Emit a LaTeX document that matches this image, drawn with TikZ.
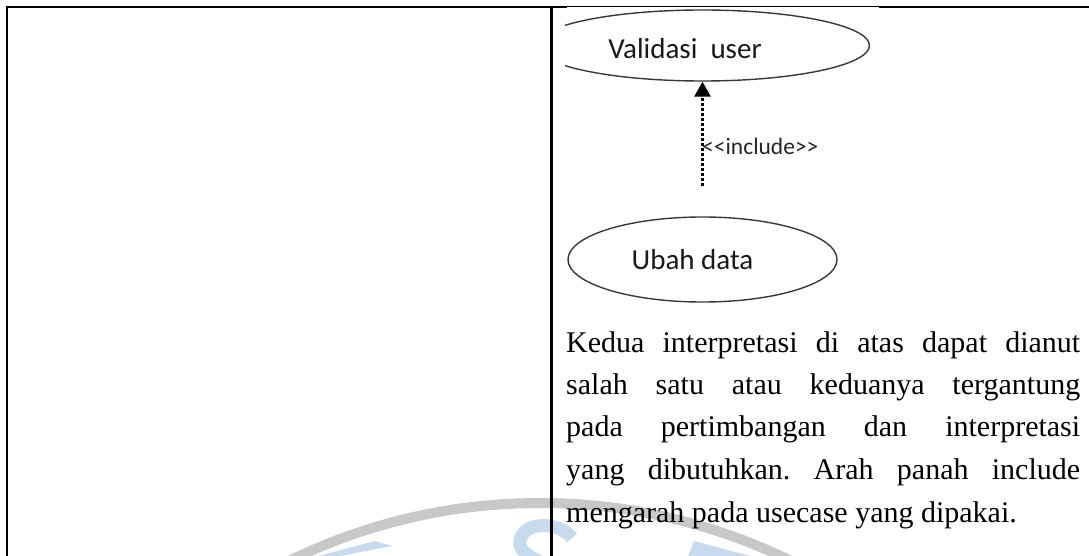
\documentclass[tikz,border=0pt]{standalone}
\usepackage{fontspec}
\setmainfont{Liberation Serif}
\newfontfamily\calibri{Carlito}
\usetikzlibrary{shapes.geometric,arrows.meta}
\definecolor{wmblue}{RGB}{200,218,238}
\definecolor{wmgray}{RGB}{200,200,200}
\begin{document}
\begin{tikzpicture}[x=1pt,y=-1pt,
  rule/.style={line width=2.3pt,line cap=rect},
  thinrule/.style={line width=1pt},
  usecase/.style={draw=black!78,line width=1.4pt,ellipse,inner sep=0pt},
  uctext/.style={font=\calibri\fontsize{29}{34}\selectfont,text=black!90,inner sep=0pt,anchor=base},
  bodyline/.style={font=\fontsize{30}{36}\selectfont,inner sep=0pt,anchor=base west},
  inclabel/.style={font=\calibri\fontsize{23.5}{28}\selectfont,text=black!85,inner sep=0pt,anchor=base west},
  incarrow/.style={line width=2.8pt,dash pattern=on 2.6pt off 2.4pt,-{Triangle[length=15pt,width=16pt]}}
]
\useasboundingbox (0,0) rectangle (1089,556);
\clip (0,0) rectangle (1089,556);
% faint watermark
\draw[line width=10pt, draw=wmgray] (540,1074) circle[radius=571];
\draw[wmblue, line width=13pt] (572,538) .. controls (560,522) and (525,520) .. (520,540) .. controls (518,550) and (528,556) .. (540,562);
\fill[wmblue] (318,556) -- (375,541) -- (392,546) -- (340,556) -- cycle;
\fill[wmblue] (688,556) -- (694,541) -- (750,556) -- cycle;
% table rules
\draw[rule] (7,7) -- (566,7);
\draw[thinrule] (566,7) -- (880,7);
\draw[rule] (880,7) -- (1089,7);
\draw[rule] (7,7) -- (7,556);
\draw[rule] (551.5,7) -- (551.5,556);
% use case diagram
\begin{scope}
\clip (565,0) rectangle (1089,556);
\node[usecase, minimum width=334pt, minimum height=71pt] (uc1) at (702.5,45.5) {};
\end{scope}
\node[uctext] (t1) at (685,59) {Validasi\ \ user};
\node[usecase, minimum width=269pt, minimum height=85pt] (uc2) at (702.5,259.5) {};
\node[uctext] (t2) at (692.5,269) {Ubah data};
\coordinate (incstart) at (702.5,186);
\draw[incarrow] (incstart) -- (uc1.south);
\node[inclabel] (inc) at (702,155) {<<include>>};
% body text
\node[bodyline] (l1) at (566,352) {\hbox to 514pt{Kedua\hfill interpretasi\hfill di\hfill atas\hfill dapat\hfill dianut}};
\node[bodyline] (l2) at (566,394) {\hbox to 514pt{salah\hfill satu\hfill atau\hfill keduanya\hfill tergantung}};
\node[bodyline] (l3) at (566,436) {\hbox to 514pt{pada\hfill pertimbangan\hfill dan\hfill interpretasi}};
\node[bodyline] (l4) at (566,479) {\hbox to 514pt{yang\hfill dibutuhkan.\hfill Arah\hfill panah\hfill include}};
\node[bodyline] (l5) at (566,522) {mengarah pada usecase yang dipakai.};
\end{tikzpicture}
\end{document}
